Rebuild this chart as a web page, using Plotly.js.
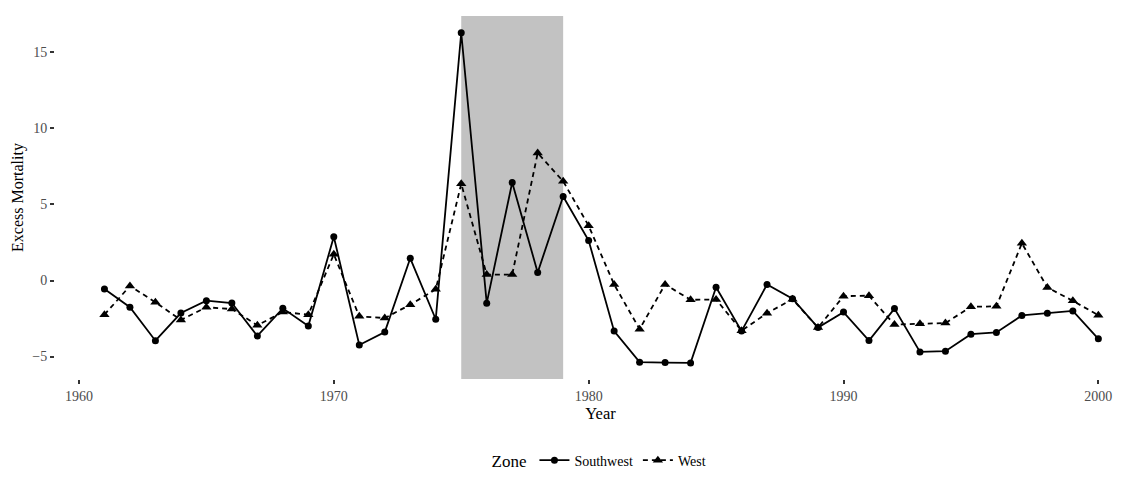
<!DOCTYPE html>
<html>
<head>
<meta charset="utf-8">
<script src="https://cdn.plot.ly/plotly-3.0.1.min.js"></script>
<style>
  html, body { margin: 0; padding: 0; background: #fff; }
  #chart { width: 1146px; height: 480px; }
</style>
</head>
<body>
<div id="chart"></div>
<script>
// Annual excess mortality by climate zone, 1961-2000
const years = [
  1961, 1962, 1963, 1964, 1965, 1966, 1967, 1968, 1969, 1970,
  1971, 1972, 1973, 1974, 1975, 1976, 1977, 1978, 1979, 1980,
  1981, 1982, 1983, 1984, 1985, 1986, 1987, 1988, 1989, 1990,
  1991, 1992, 1993, 1994, 1995, 1996, 1997, 1998, 1999, 2000
];

const southwest = [
  -0.56, -1.76, -3.96, -2.14, -1.33, -1.48, -3.65, -1.83, -2.99, 2.88,
  -4.24, -3.39, 1.46, -2.55, 16.3, -1.49, 6.45, 0.53, 5.53, 2.63,
  -3.33, -5.37, -5.4, -5.42, -0.44, -3.33, -0.26, -1.2, -3.1, -2.08,
  -3.95, -1.85, -4.7, -4.65, -3.53, -3.42, -2.3, -2.15, -2.0, -3.84
];

const west = [
  -2.25, -0.36, -1.43, -2.6, -1.76, -1.88, -2.95, -2.07, -2.25, 1.72,
  -2.36, -2.47, -1.59, -0.58, 6.36, 0.39, 0.39, 8.38, 6.53, 3.6,
  -0.26, -3.2, -0.26, -1.27, -1.25, -3.3, -2.15, -1.23, -3.1, -1.03,
  -1.0, -2.9, -2.85, -2.8, -1.73, -1.7, 2.45, -0.46, -1.34, -2.28
];

// Shaded period
const shadedPeriod = [1975, 1979];

const xTicks = [1960, 1970, 1980, 1990, 2000];
const yTicks = [-5, 0, 5, 10, 15];

const serif = '"Liberation Serif", "DejaVu Serif", serif';

const traces = [
  {
    x: years, y: southwest, name: 'Southwest',
    type: 'scatter', mode: 'lines+markers',
    line: { color: '#000', width: 1.8 },
    marker: { symbol: 'circle', size: 7, color: '#000' }
  },
  {
    x: years, y: west, name: 'West',
    type: 'scatter', mode: 'lines+markers',
    line: { color: '#000', width: 1.8, dash: '5px,4px' },
    marker: { symbol: 'triangle-up', size: 9, color: '#000' }
  }
];

const layout = {
  width: 1146, height: 480,
  margin: { l: 55, r: 0, t: 16, b: 101 },
  paper_bgcolor: '#fff', plot_bgcolor: '#fff',
  font: { family: serif, color: '#000' },
  showlegend: true,
  xaxis: {
    range: [1959.06, 2001.87],
    tickvals: xTicks,
    ticktext: xTicks.map(String),
    ticks: 'outside', ticklen: 4, tickwidth: 2, tickcolor: '#333',
    showgrid: false, zeroline: false, showline: false,
    tickfont: { family: serif, size: 14, color: '#4d4d4d' },
    title: { text: 'Year', font: { family: serif, size: 16.5, color: '#000' }, standoff: 2 }
  },
  yaxis: {
    range: [-6.48, 17.4],
    tickvals: yTicks,
    ticktext: yTicks.map(v => v < 0 ? '\u2212' + Math.abs(v) : String(v)),
    ticks: 'outside', ticklen: 4, tickwidth: 2, tickcolor: '#333',
    showgrid: false, zeroline: false, showline: false,
    tickfont: { family: serif, size: 14, color: '#4d4d4d' },
    title: { text: 'Excess Mortality', font: { family: serif, size: 16, color: '#000' }, standoff: 4 }
  },
  shapes: [{
    type: 'rect', layer: 'below',
    xref: 'x', yref: 'paper',
    x0: shadedPeriod[0], x1: shadedPeriod[1], y0: 0, y1: 1,
    fillcolor: '#c2c2c2', line: { width: 0 }
  }],
  legend: {
    orientation: 'h',
    x: 0.5, xanchor: 'center',
    y: -0.226, yanchor: 'middle',
    title: { text: 'Zone', side: 'left', font: { family: serif, size: 17, color: '#000' } },
    font: { family: serif, size: 14, color: '#000' },
    itemwidth: 30,
    bgcolor: 'rgba(0,0,0,0)'
  }
};

Plotly.newPlot('chart', traces, layout, { displayModeBar: false, staticPlot: true });
</script>
</body>
</html>
